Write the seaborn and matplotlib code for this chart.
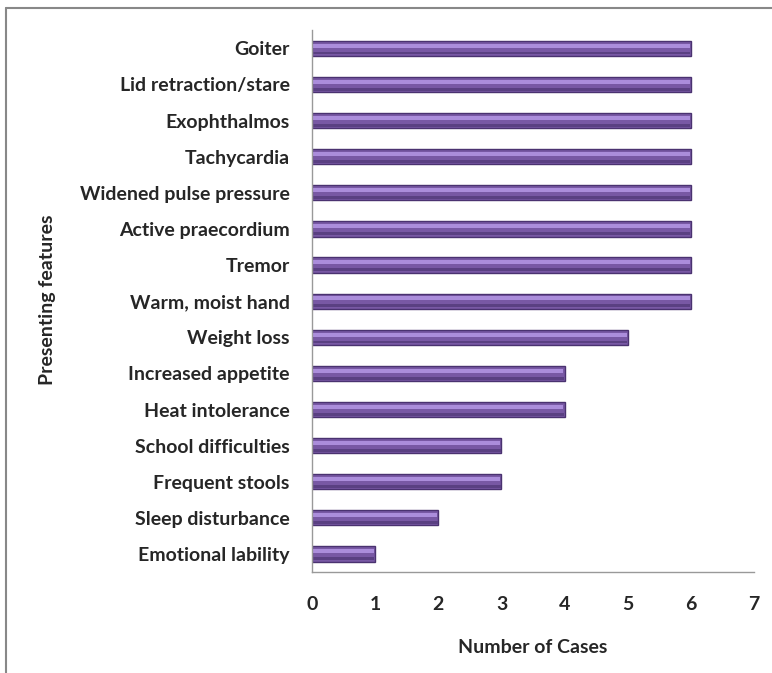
import pandas as pd
import numpy as np
import matplotlib
matplotlib.use('Agg')
import matplotlib.pyplot as plt
from matplotlib.lines import Line2D
import seaborn as sns

# Presenting features and counts, top to bottom as in the chart
features = ['Goiter', 'Lid retraction/stare', 'Exophthalmos', 'Tachycardia',
            'Widened pulse pressure', 'Active praecordium', 'Tremor',
            'Warm, moist hand', 'Weight loss', 'Increased appetite',
            'Heat intolerance', 'School difficulties', 'Frequent stools',
            'Sleep disturbance', 'Emotional lability']
cases = [6, 6, 6, 6, 6, 6, 6, 6, 5, 4, 4, 3, 3, 2, 1]
x_ticks = [0, 1, 2, 3, 4, 5, 6, 7]

data = pd.DataFrame({'feature': features, 'cases': cases})

sns.set_style('white')
plt.rcParams['font.family'] = ['Lato', 'DejaVu Sans']
plt.rcParams['font.weight'] = 'bold'

fig = plt.figure(figsize=(7.72, 6.73), dpi=100)
ax = fig.add_axes([0.404, 0.150, 0.573, 0.805])

# main bar body
sns.barplot(data=data, x='cases', y='feature', orient='h', color='#7858a4',
            saturation=1, width=0.42, edgecolor='#4a3270', linewidth=1, ax=ax)
# lighter highlight stripe and darker lower band to mimic the glossy cylinder
pos = np.arange(len(features))
ax.barh(pos - 0.075, data['cases'] - 0.03, height=0.11, left=0.01,
        color='#ab8ddb', linewidth=0)
ax.barh(pos + 0.13, data['cases'] - 0.02, height=0.08, left=0.01,
        color='#5a4082', linewidth=0)

ax.set_xlim(0, 7)
ax.set_ylim(len(features) - 0.5, -0.5)
ax.set_xticks(x_ticks)
ax.set_xticklabels([str(t) for t in x_ticks], fontsize=14, fontweight='bold')
ax.set_yticks(pos)
ax.set_yticklabels(features, fontsize=14, fontweight='bold')
ax.tick_params(axis='y', length=0, pad=16)
ax.tick_params(axis='x', length=0, pad=17)
# small tick marks between categories and at x values
ax.set_yticks(np.arange(-0.5, len(features), 1), minor=True)
ax.tick_params(axis='y', which='minor', length=5, color='#888888', width=1, direction='out')
ax.set_xticks(x_ticks, minor=True)
ax.tick_params(axis='x', which='minor', length=5, color='#888888', width=1, direction='out')

for side in ['top', 'right']:
    ax.spines[side].set_visible(False)
for side in ['left', 'bottom']:
    ax.spines[side].set_color('#999999')
    ax.spines[side].set_linewidth(1)

ax.set_xlabel('Number of Cases', fontsize=14, fontweight='bold', labelpad=19)
ax.set_ylabel('')
fig.text(0.061, 0.555, 'Presenting features', rotation=90, ha='center', va='center',
         fontsize=14, fontweight='bold')

# outer chart frame (cut at right and bottom)
fig.add_artist(Line2D([0.0075, 1.0], [0.988, 0.988], color='#888888', lw=1.5))
fig.add_artist(Line2D([0.0075, 0.0075], [0.0, 0.988], color='#888888', lw=1.5))

fig.savefig('out.png', dpi=100)
